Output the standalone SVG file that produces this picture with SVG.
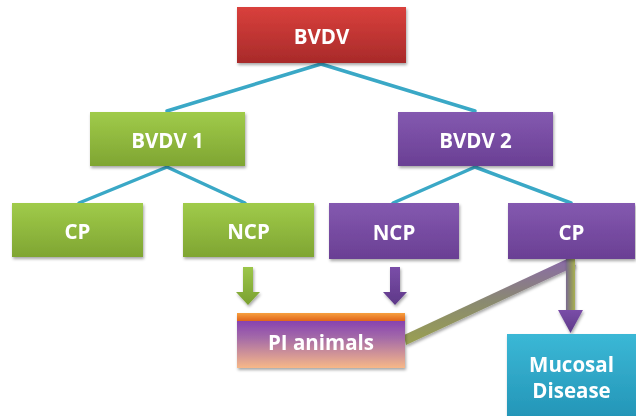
<svg xmlns="http://www.w3.org/2000/svg" width="636" height="416" viewBox="0 0 636 416">
<defs>
<linearGradient id="gRed" x1="0" y1="0" x2="0" y2="1"><stop offset="0" stop-color="#d9403c"/><stop offset="1" stop-color="#a82a2a"/></linearGradient>
<linearGradient id="gGreen" x1="0" y1="0" x2="0" y2="1"><stop offset="0" stop-color="#a0cb4a"/><stop offset="1" stop-color="#7fa532"/></linearGradient>
<linearGradient id="gPurple" x1="0" y1="0" x2="0" y2="1"><stop offset="0" stop-color="#8459b0"/><stop offset="1" stop-color="#6a3f94"/></linearGradient>
<linearGradient id="gCyan" x1="0" y1="0" x2="0" y2="1"><stop offset="0" stop-color="#3bb8d6"/><stop offset="1" stop-color="#2496b8"/></linearGradient>
<linearGradient id="gPI" x1="0" y1="0" x2="0" y2="1"><stop offset="0" stop-color="#7a2fb5"/><stop offset="0.45" stop-color="#a46aa8"/><stop offset="1" stop-color="#f7b888"/></linearGradient>
<linearGradient id="gOrange" x1="0" y1="0" x2="0" y2="1"><stop offset="0" stop-color="#f7a040"/><stop offset="1" stop-color="#e0651a"/></linearGradient>
<linearGradient id="gArrG" x1="0" y1="0" x2="0" y2="1"><stop offset="0" stop-color="#9cc64a"/><stop offset="1" stop-color="#7aa030"/></linearGradient>
<linearGradient id="gArrP" x1="0" y1="0" x2="0" y2="1"><stop offset="0" stop-color="#7a4ea8"/><stop offset="1" stop-color="#5e3888"/></linearGradient>
<linearGradient id="gBand" x1="0" y1="0" x2="0" y2="1"><stop offset="0" stop-color="#8a6aa8"/><stop offset="0.5" stop-color="#8a8a70"/><stop offset="1" stop-color="#9aa050"/></linearGradient>
<linearGradient id="gShaft" x1="0" y1="0" x2="1" y2="0"><stop offset="0" stop-color="#7a6a90"/><stop offset="0.5" stop-color="#8c8c6a"/><stop offset="1" stop-color="#a8b050"/></linearGradient>
<filter id="sh" x="-10%" y="-10%" width="130%" height="140%"><feDropShadow dx="1" dy="2" stdDeviation="1.5" flood-color="#000" flood-opacity="0.35"/></filter>
</defs>
<style>
.t{font-family:"Open Sans","Noto Sans","Liberation Sans",sans-serif;font-weight:bold;fill:#fff;font-size:20.5px;text-anchor:middle;dominant-baseline:central}
.c{stroke:#3aa8c6;stroke-width:3.5;fill:none;stroke-linecap:round}
</style>
<g id="connectors">
<line class="c" x1="321" y1="64" x2="167" y2="111"/>
<line class="c" x1="321" y1="64" x2="475" y2="111"/>
<line class="c" x1="167" y1="167" x2="79" y2="203"/>
<line class="c" x1="167" y1="167" x2="245" y2="203"/>
<line class="c" x1="475" y1="167" x2="393" y2="203"/>
<line class="c" x1="475" y1="167" x2="571" y2="203"/>
<g id="arrow-ncp1" filter="url(#sh)"><path d="M243,267 H253 V292 H260 L248,305 L236,292 H243 Z" fill="url(#gArrG)"/></g>
<g id="arrow-ncp2" filter="url(#sh)"><path d="M390,267 H400 V292 H407 L395,305 L383,292 H390 Z" fill="url(#gArrP)"/></g>
<g id="band" filter="url(#sh)"><polygon points="567,259 576,266 406,345 404,335" fill="url(#gBand)"/></g>
<g id="arrow-md" filter="url(#sh)"><rect x="566" y="259" width="9" height="53" fill="url(#gShaft)"/><path d="M558,310 H583 L570.5,333 Z" fill="url(#gArrP)"/></g>
</g>
<g id="bvdv" filter="url(#sh)"><rect x="237" y="7" width="169" height="56" fill="url(#gRed)"/><text class="t" x="321.5" y="36">BVDV</text></g>
<g id="bvdv1" filter="url(#sh)"><rect x="90" y="112" width="155" height="54" fill="url(#gGreen)"/><text class="t" x="167.5" y="140">BVDV 1</text></g>
<g id="bvdv2" filter="url(#sh)"><rect x="398" y="112" width="155" height="54" fill="url(#gPurple)"/><text class="t" x="475.5" y="140">BVDV 2</text></g>
<g id="cp1" filter="url(#sh)"><rect x="12" y="203" width="131" height="54" fill="url(#gGreen)"/><text class="t" x="77.5" y="231">CP</text></g>
<g id="ncp1" filter="url(#sh)"><rect x="183" y="203" width="131" height="54" fill="url(#gGreen)"/><text class="t" x="248.5" y="231">NCP</text></g>
<g id="ncp2" filter="url(#sh)"><rect x="329" y="203" width="130" height="56" fill="url(#gPurple)"/><text class="t" x="394" y="232">NCP</text></g>
<g id="cp2" filter="url(#sh)"><rect x="508" y="203" width="127" height="56" fill="url(#gPurple)"/><text class="t" x="571.5" y="232">CP</text></g>
<g id="pi" filter="url(#sh)"><rect x="237" y="313" width="168" height="55" fill="url(#gPI)"/><rect x="237" y="313" width="168" height="8" fill="url(#gOrange)"/><text class="t" x="321" y="342">PI animals</text></g>
<g id="md" filter="url(#sh)"><rect x="507" y="334" width="129" height="82" fill="url(#gCyan)"/><text class="t" x="571.5" y="364">Mucosal</text><text class="t" x="571.5" y="390">Disease</text></g>
</svg>
